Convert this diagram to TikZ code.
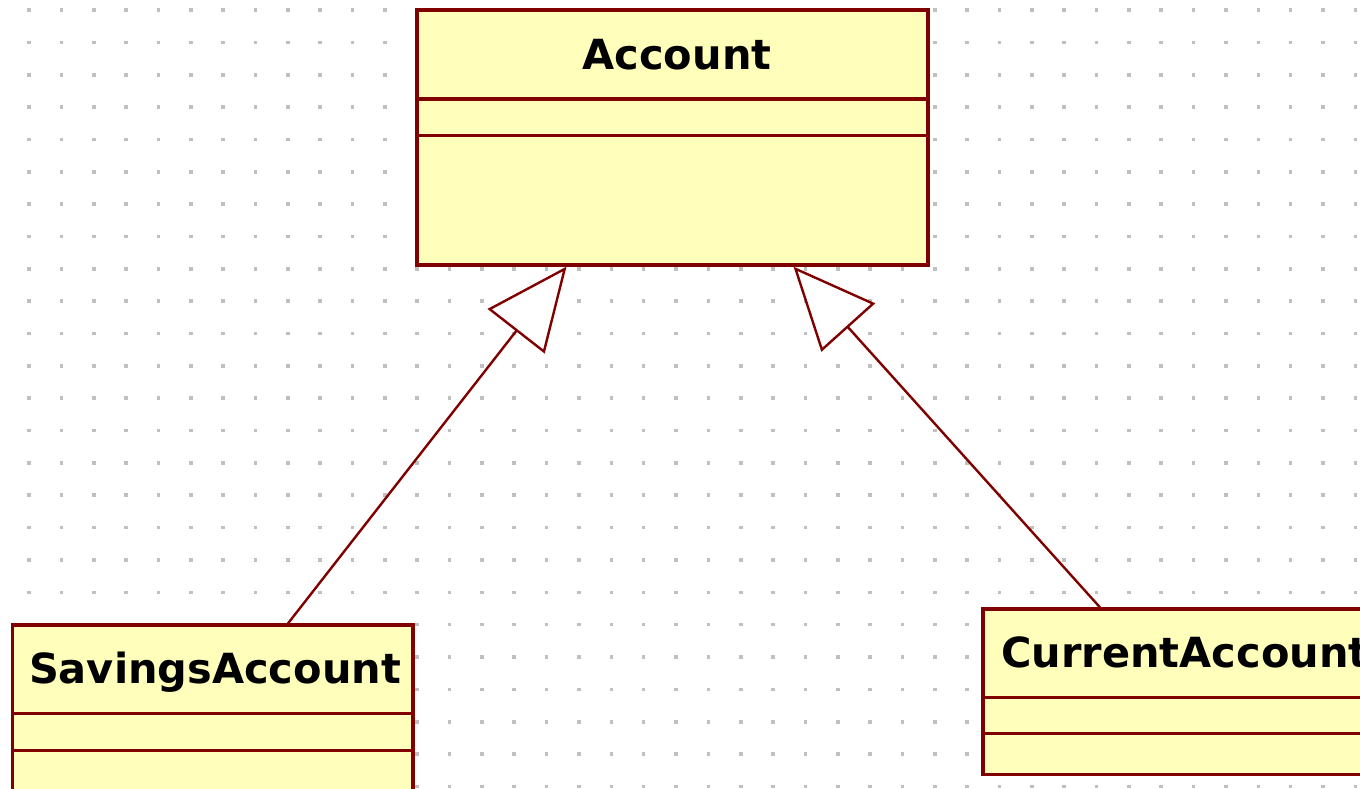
\documentclass[tikz,border=0pt]{standalone}
\usepackage{fontspec}
\setsansfont{DejaVu Sans}
\usetikzlibrary{arrows.meta,calc}
\definecolor{umlred}{HTML}{800000}
\definecolor{umlfill}{HTML}{FFFFBB}
\definecolor{dotc}{HTML}{C0C0C0}
\tikzset{
  classbox/.style={draw=umlred, fill=umlfill, line width=3.2pt, rectangle, inner sep=0pt},
  divider/.style={draw=umlred, line width=3.2pt},
  ctitle/.style={inner sep=0pt, font=\sffamily\bfseries\fontsize{41.5}{50}\selectfont, text=black},
  gen/.style={draw=umlred, line width=2.4pt, -{Triangle[open, fill=white, length=82pt, width=72pt]}}
}
\begin{document}
\begin{tikzpicture}[x=1pt,y=-1pt]
\useasboundingbox (0,0) rectangle (1360,788);
\clip (0,0) rectangle (1360,788);
\fill[white] (0,0) rectangle (1360,788);
% dotted grid
\foreach \i in {0,...,41} {
  \foreach \j in {0,...,24} {
    \fill[dotc] ({29+32.35*\i-1.8},{10+32.35*\j-1.8}) rectangle ++(3.6,3.6);
  }
}
% class boxes
\node[classbox, minimum width=511pt, minimum height=255pt] (acc) at (672.5,137.5) {};
\node[classbox, minimum width=400.3pt, minimum height=235pt] (sav) at (212.85,742.5) {};
\node[classbox, minimum width=399pt, minimum height=165.7pt] (cur) at (1182.5,691.85) {};
% compartments
\draw[divider] (417,99) -- (928,99);
\draw[divider] (417,135.7) -- (928,135.7);
\draw[divider] (12.7,713.7) -- (413,713.7);
\draw[divider] (12.7,750.7) -- (413,750.7);
\draw[divider] (983,697.7) -- (1382,697.7);
\draw[divider] (983,733.5) -- (1382,733.5);
% titles
\node[ctitle, anchor=base] (acct) at (677,69) {Account};
\node[ctitle, anchor=base] (savt) at (215,683) {SavingsAccount};
\node[ctitle, anchor=base west] (curt) at (1001,667) {CurrentAccount};
% generalizations
\coordinate (savx) at (288,0);
\coordinate (curx) at (1100,0);
\coordinate (accx1) at (566.5,0);
\coordinate (accx2) at (793.5,0);
\draw[gen] (sav.north -| savx) -- (acc.south -| accx1);
\draw[gen] (cur.north -| curx) -- (acc.south -| accx2);
\end{tikzpicture}
\end{document}
